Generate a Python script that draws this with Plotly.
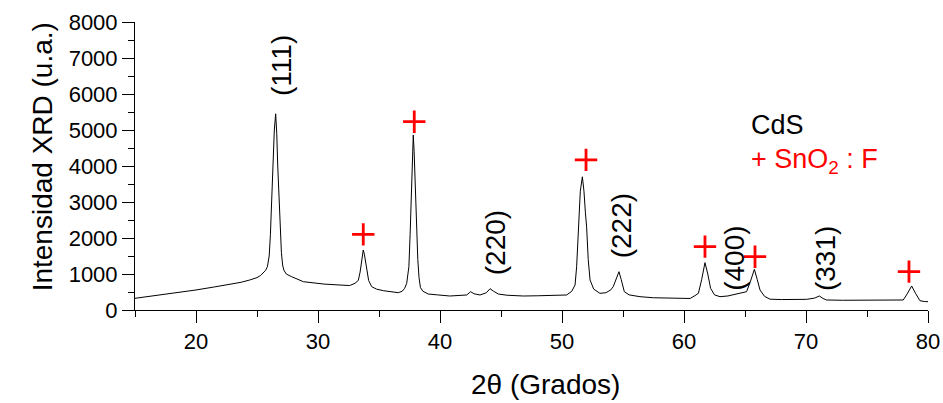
import plotly.graph_objects as go

# XRD pattern of the CdS film on SnO2:F (2-theta in degrees, intensity in a.u.)
two_theta = [
    15.0, 16.0, 17.3, 18.5, 20.0, 21.5, 22.8, 23.7, 24.4, 25.0, 25.3, 25.5,
    25.7, 25.85, 26.0, 26.1, 26.2, 26.3, 26.42, 26.53, 26.62, 26.7, 26.8, 26.9,
    27.0, 27.1, 27.2, 27.4, 27.84, 28.8, 29.5, 30.5, 31.8, 32.6, 33.03, 33.3,
    33.45, 33.55, 33.65, 33.71, 33.8, 33.9, 34.0, 34.15, 34.4, 34.8, 35.35, 36.0,
    36.58, 36.9, 37.1, 37.27, 37.45, 37.55, 37.65, 37.75, 37.81, 37.88, 37.98, 38.08,
    38.18, 38.28, 38.4, 38.6, 39.04, 39.8, 40.8, 42.19, 42.51, 42.8, 43.28, 43.8,
    44.1, 44.4, 44.78, 45.5, 46.83, 48.0, 49.5, 50.38, 50.8, 51.07, 51.2, 51.34,
    51.5, 51.67, 51.8, 51.92, 52.02, 52.15, 52.3, 52.6, 53.11, 53.6, 54.0, 54.2,
    54.45, 54.67, 54.85, 55.11, 55.5, 56.39, 57.5, 58.5, 60.0, 60.5, 60.9, 61.18,
    61.45, 61.72, 61.95, 62.18, 62.5, 62.95, 63.6, 64.0, 64.31, 64.8, 65.13, 65.45,
    65.77, 66.0, 66.23, 66.6, 67.05, 68.0, 69.0, 70.05, 70.7, 71.09, 71.4, 71.69,
    73.0, 75.0, 77.0, 77.97, 78.3, 78.66, 79.0, 79.34, 79.7, 80.0,
]
intensity = [
    325, 370, 417, 480, 556, 640, 713, 770, 833, 900, 960, 1019,
    1100, 1200, 1500, 2100, 3050, 4000, 5000, 5450, 4900, 4000, 3050, 2200,
    1600, 1250, 1110, 1000, 925, 786, 760, 720, 694, 680, 741, 820,
    1050, 1350, 1600, 1667, 1550, 1300, 1050, 820, 648, 580, 537, 500,
    481, 520, 600, 741, 1200, 2100, 3300, 4500, 4860, 4400, 3200, 2300,
    1400, 900, 620, 520, 444, 420, 389, 417, 509, 450, 417, 480,
    592, 520, 444, 410, 389, 395, 400, 417, 520, 694, 1200, 2300,
    3300, 3700, 3300, 2700, 2300, 1400, 833, 580, 463, 480, 560, 648,
    900, 1064, 850, 509, 420, 370, 340, 330, 310, 320, 400, 463,
    850, 1315, 1000, 602, 420, 370, 390, 420, 444, 480, 509, 800,
    1130, 850, 556, 380, 300, 290, 285, 296, 330, 389, 320, 278,
    270, 265, 265, 278, 450, 667, 450, 259, 235, 231,
]

# CdS reflections (Miller indices) and where their labels sit
cds_labels = ["(111)", "(220)", "(222)", "(400)", "(331)"]
cds_label_x = [26.95, 44.5, 54.85, 64.15, 71.55]
cds_label_y = [6800, 1880, 2330, 1440, 1440]

# SnO2:F substrate reflections, marked with a red cross
sno2_x = [33.71, 37.89, 51.97, 61.72, 65.82, 78.44]
sno2_y = [2100, 5230, 4170, 1760, 1480, 1065]

FONT = "Arial, Liberation Sans, sans-serif"

fig = go.Figure()
fig.add_trace(go.Scatter(
    x=two_theta, y=intensity, mode="lines",
    line=dict(color="black", width=1), showlegend=False, hoverinfo="skip",
))
fig.add_trace(go.Scatter(
    x=sno2_x, y=sno2_y, mode="markers",
    marker=dict(symbol="cross-thin", size=16, line=dict(color="#ff0000", width=2.8)),
    showlegend=False, hoverinfo="skip",
))

for lab, lx, ly in zip(cds_labels, cds_label_x, cds_label_y):
    fig.add_annotation(x=lx, y=ly, text=lab, showarrow=False, textangle=-90,
                       font=dict(family=FONT, size=28, color="black"))

# Phase key
fig.add_annotation(x=65.3, y=5130, text="CdS", showarrow=False, xanchor="left",
                   font=dict(family=FONT, size=27, color="black"))
fig.add_annotation(x=65.3, y=4140, text="+ SnO<sub>2</sub> : F", showarrow=False,
                   xanchor="left", font=dict(family=FONT, size=27, color="#ff0000"))

# Axis titles
fig.add_annotation(xref="paper", yref="paper", x=-0.139, y=0.531,
                   text="Intensidad XRD (u.a.)", showarrow=False, textangle=-90,
                   font=dict(family=FONT, size=28, color="black"))
fig.add_annotation(xref="paper", yref="paper", x=0.518, y=-0.26, yanchor="middle",
                   text="2\u03b8 (Grados)", showarrow=False,
                   font=dict(family=FONT, size=28, color="black"))

axis_common = dict(
    showline=True, linecolor="black", linewidth=1, showgrid=False, zeroline=False,
    ticks="outside", ticklen=12, tickcolor="black", tickwidth=1, automargin=False,
    tickfont=dict(family=FONT, size=22, color="black"),
)
fig.update_xaxes(range=[15, 80], tick0=0, dtick=10,
                 minor=dict(dtick=5, tick0=0, ticks="outside", ticklen=6,
                            tickcolor="black", showgrid=False),
                 **axis_common)
fig.update_yaxes(range=[0, 8000], tick0=0, dtick=1000,
                 minor=dict(dtick=500, tick0=0, ticks="outside", ticklen=6,
                            tickcolor="black", showgrid=False),
                 **axis_common)

fig.update_layout(
    width=943, height=403, autosize=False,
    margin=dict(l=135, r=15, t=22, b=93, autoexpand=False),
    plot_bgcolor="white", paper_bgcolor="white",
)

fig.write_html("out.html", config={"responsive": False})
